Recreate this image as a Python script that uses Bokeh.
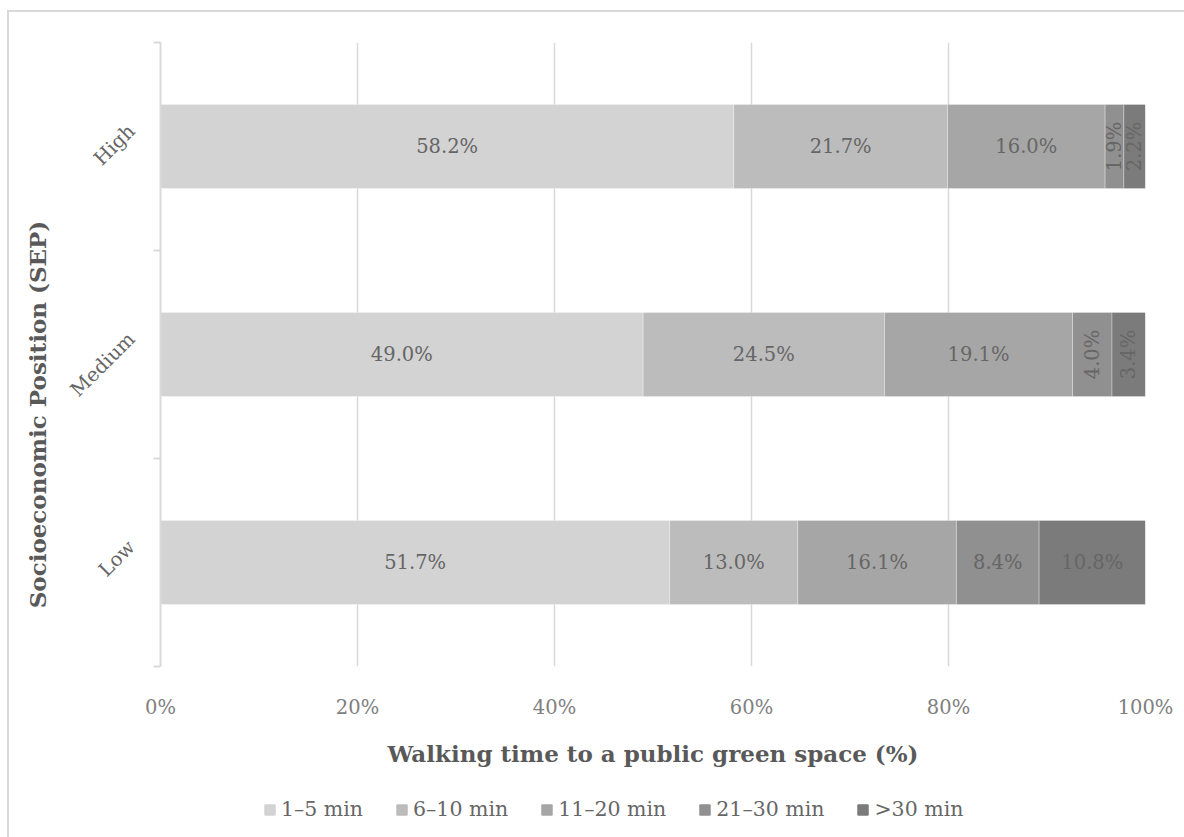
import math
from bokeh.plotting import figure
from bokeh.layouts import column
from bokeh.models import (ColumnDataSource, Range1d, FixedTicker, PrintfTickFormatter,
                          Legend, LegendItem)
from bokeh.core.properties import value
from bokeh.embed import file_html
from bokeh.resources import INLINE

# ---- data ----
categories = ["Low", "Medium", "High"]
series_names = ["1–5 min", "6–10 min", "11–20 min", "21–30 min", ">30 min"]
min_1_5 = [51.7, 49.0, 58.2]
min_6_10 = [13.0, 24.5, 21.7]
min_11_20 = [16.1, 19.1, 16.0]
min_21_30 = [8.4, 4.0, 1.9]
min_30_plus = [10.8, 3.4, 2.2]
x_ticks = [0, 20, 40, 60, 80, 100]

colors = ["#d3d3d3", "#bcbcbc", "#a6a6a6", "#909090", "#7b7b7b"]
FONT = "DejaVu Serif"

series = [min_1_5, min_6_10, min_11_20, min_21_30, min_30_plus]
keys = ["s0", "s1", "s2", "s3", "s4"]
ypos = [i + 0.5 for i in range(len(categories))]

data = {"y": ypos}
for k, s in zip(keys, series):
    data[k] = s
source = ColumnDataSource(data)

p = figure(width=1175, height=773, output_backend="svg", toolbar_location=None,
           x_range=Range1d(0, 100), y_range=Range1d(0, 3),
           min_border_left=151, min_border_right=39, min_border_top=30, min_border_bottom=119)
p.outline_line_color = None
p.background_fill_color = "white"
p.border_fill_color = "white"

renderers = p.hbar_stack(keys, y="y", height=0.405, color=colors, source=source,
                         line_color="white", line_width=0.6, line_alpha=0.5)

# labels
lx, ly, lt, rx, ry, rt = [], [], [], [], [], []
for j in range(len(categories)):
    cum = 0.0
    for s in series:
        v = s[j]
        c = cum + v / 2
        cum += v
        if v < 5:
            rx.append(c); ry.append(ypos[j]); rt.append(f"{v:.1f}%")
        else:
            lx.append(c); ly.append(ypos[j]); lt.append(f"{v:.1f}%")
p.text(x=lx, y=ly, text=lt, text_align="center", text_baseline="middle",
       text_font=value(FONT), text_font_size="19.5px", text_color="#666666")
p.text(x=rx, y=ry, text=rt, text_align="center", text_baseline="middle", angle=math.pi / 2,
       text_font=value(FONT), text_font_size="19.5px", text_color="#666666")

# grid
p.ygrid.grid_line_color = None
p.xgrid.ticker = FixedTicker(ticks=x_ticks)
p.xgrid.grid_line_color = "#d9d9d9"
p.xgrid.grid_line_width = 1.5

# x axis
xa = p.xaxis[0]
xa.ticker = FixedTicker(ticks=x_ticks)
xa.formatter = PrintfTickFormatter(format="%d%%")
xa.axis_line_color = None
xa.major_tick_line_color = None
xa.minor_tick_line_color = None
xa.major_label_standoff = 23
xa.major_label_text_font = FONT
xa.major_label_text_font_size = "19.5px"
xa.major_label_text_color = "#808080"
xa.axis_label = "Walking time to a public green space (%)"
xa.axis_label_text_font = FONT
xa.axis_label_text_font_style = "bold"
xa.axis_label_text_font_size = "23px"
xa.axis_label_text_color = "#595959"
xa.axis_label_standoff = 18

# y axis
label_shift = 0.09
ya = p.yaxis[0]
ya.ticker = FixedTicker(ticks=[yv + label_shift for yv in ypos], minor_ticks=[0, 1, 2, 3])
ya.major_label_overrides = {yv + label_shift: c for yv, c in zip(ypos, categories)}
ya.major_label_orientation = math.pi / 4
ya.major_tick_line_color = None
ya.minor_tick_out = 7
ya.minor_tick_in = 0
ya.minor_tick_line_color = "#d9d9d9"
ya.minor_tick_line_width = 2
ya.axis_line_color = "#d9d9d9"
ya.axis_line_width = 2
ya.major_label_standoff = 22
ya.major_label_text_font = FONT
ya.major_label_text_font_size = "19.5px"
ya.major_label_text_color = "#666666"
ya.axis_label = "Socioeconomic Position (SEP)" + "\u00a0" * 15
ya.axis_label_text_font = FONT
ya.axis_label_text_font_style = "bold"
ya.axis_label_text_font_size = "23px"
ya.axis_label_text_color = "#595959"
ya.axis_label_standoff = 4

# legend in a strip figure below
p2 = figure(width=1175, height=52, output_backend="svg", toolbar_location=None,
            x_range=Range1d(0, 100), y_range=Range1d(10, 11),
            x_axis_location=None, y_axis_location=None,
            min_border_left=0, min_border_right=0, min_border_top=0, min_border_bottom=0)
p2.outline_line_color = None
p2.grid.visible = False
p2.border_fill_color = "white"
leg_renderers = p2.hbar_stack(keys, y="y", height=0.405, color=colors, source=source)
items = [LegendItem(label=n, renderers=[r]) for n, r in zip(series_names, leg_renderers)]
legend = Legend(items=items, orientation="horizontal", location=(103, 16),
                label_text_font=FONT, label_text_font_size="20.5px", label_text_color="#666666",
                glyph_width=13, glyph_height=13, label_standoff=5, spacing=32,
                padding=0, margin=0, border_line_color=None, background_fill_alpha=0)
p2.add_layout(legend, "center")

layout = column(p, p2, spacing=0,
                styles={"margin-left": "7px", "margin-top": "10px",
                        "border-left": "2px solid #d9d9d9",
                        "border-top": "2px solid #d9d9d9"})

open("out.html", "w").write(file_html(layout, INLINE))
